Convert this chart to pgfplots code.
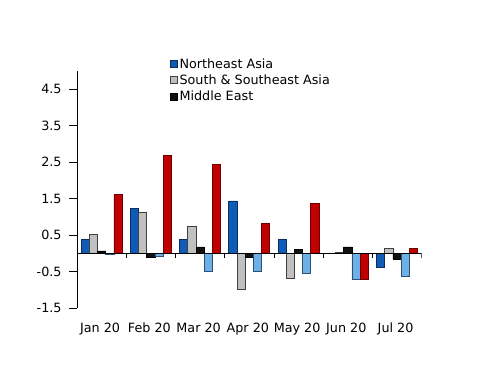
\documentclass[border=0pt]{standalone}
\usepackage{fontspec}
\setmainfont{DejaVu Sans}
\usepackage{pgfplots}
\pgfplotsset{compat=1.18}
\definecolor{neA}{HTML}{0F5BB5}
\definecolor{neAd}{HTML}{0A2E5C}
\definecolor{sea}{HTML}{C0C0C0}
\definecolor{sead}{HTML}{404040}
\definecolor{mea}{HTML}{111111}
\definecolor{lbl}{HTML}{6DB0E8}
\definecolor{lbld}{HTML}{2D4F70}
\definecolor{rd}{HTML}{C00000}
\definecolor{rdd}{HTML}{700000}
\begin{document}
\fontsize{12.8}{15}\selectfont
\begin{tikzpicture}
\path[use as bounding box] (-77bp,-77.7bp) rectangle (423bp,308.3bp);
\begin{axis}[
  at={(0,0)}, anchor=south west,
  scale only axis, width=344.7bp, height=237.3bp,
  xmin=-0.5, xmax=6.5, ymin=-1.5, ymax=5,
  ybar=0pt, bar width=8.2bp,
  axis x line*=bottom, axis y line*=left,
  x axis line style={draw=none},
  y axis line style={black, line width=0.8bp},
  tick align=outside,
  xtick={0,1,2,3,4,5,6},
  xticklabels={Jan 20,Feb 20,Mar 20,Apr 20,May 20,Jun 20,Jul 20},
  xtick style={draw=none},
  xticklabel style={yshift=-3bp, xshift=-1.5bp},
  ytick={-1.5,-0.5,0.5,1.5,2.5,3.5,4.5},
  ytick style={black, line width=0.8bp},
  major tick length=7.5bp,
  ticklabel style={font=\fontsize{12.8}{15}\selectfont},
  yticklabel style={xshift=-3.5bp, /pgf/number format/fixed, /pgf/number format/fixed zerofill,
    /pgf/number format/precision=1, /pgf/number format/assume math mode=true},
  legend image code/.code={\draw[#1] (0bp,-3.5bp) rectangle (7bp,3.5bp);},
  legend style={at={(rel axis cs:0.27,1.06)}, anchor=north west, draw=none, fill=none,
    font=\fontsize{12.8}{15}\selectfont, row sep=1.5bp, inner sep=0pt,
    nodes={inner sep=1.5bp}},
  legend cell align=left,
  legend entries={Northeast Asia, South \& Southeast Asia, Middle East},
]
\addplot[fill=neA, draw=neAd, line width=0.8bp] coordinates {(0,0.38) (1,1.23) (2,0.39) (3,1.44) (4,0.375) (5,0.01) (6,-0.39)};
\addplot[fill=sea, draw=sead, line width=0.8bp] coordinates {(0,0.52) (1,1.14) (2,0.73) (3,-0.98) (4,-0.67) (5,0.02) (6,0.13)};
\addplot[fill=mea, draw=black, line width=0.8bp] coordinates {(0,0.07) (1,-0.11) (2,0.18) (3,-0.10) (4,0.12) (5,0.18) (6,-0.15)};
\addplot[fill=lbl, draw=lbld, line width=0.8bp] coordinates {(0,-0.02) (1,-0.07) (2,-0.48) (3,-0.49) (4,-0.55) (5,-0.72) (6,-0.62)};
\addplot[fill=rd, draw=rdd, line width=0.8bp] coordinates {(0,1.61) (1,2.69) (2,2.45) (3,0.83) (4,1.37) (5,-0.71) (6,0.15)};
\draw[black, line width=0.8bp] (axis cs:-0.5,0) -- (axis cs:6.5,0);
\pgfplotsinvokeforeach{0.5,1.5,2.5,3.5,4.5,5.5,6.5}{\draw[black, line width=0.8bp] (axis cs:#1,0) -- ([yshift=-4bp]axis cs:#1,0);}
\end{axis}
\end{tikzpicture}
\end{document}
